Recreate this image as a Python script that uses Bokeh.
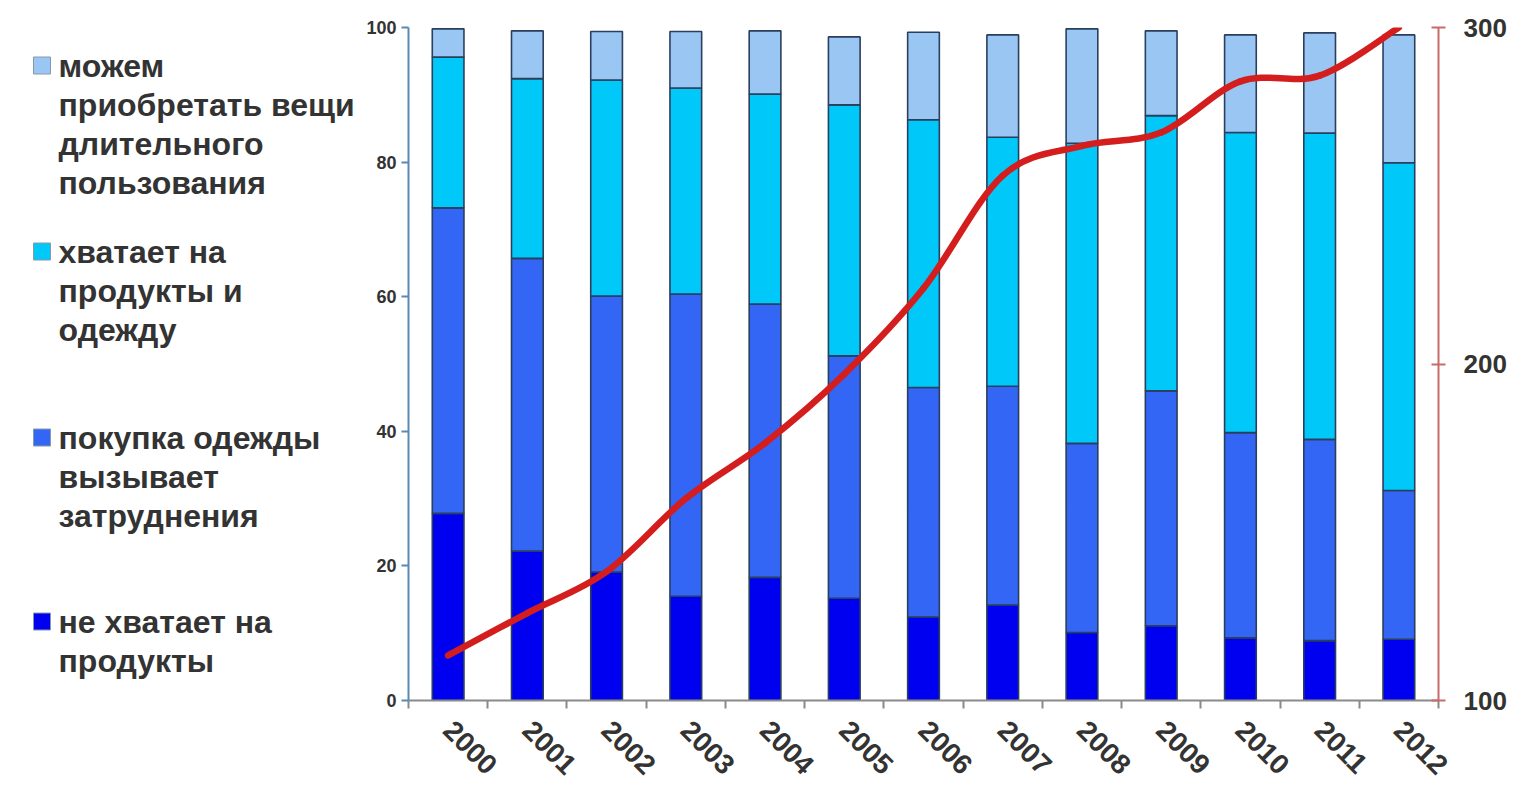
import math
from bokeh.plotting import figure
from bokeh.models import Range1d, LinearAxis, FixedTicker, ColumnDataSource
from bokeh.layouts import row
from bokeh.embed import file_html
from bokeh.resources import INLINE
from bokeh.core.properties import value

# ---------------- data ----------------
years = ["2000", "2001", "2002", "2003", "2004", "2005", "2006",
         "2007", "2008", "2009", "2010", "2011", "2012"]
series_names = [
    "не хватает на продукты",
    "покупка одежды вызывает затруднения",
    "хватает на продукты и одежду",
    "можем приобретать вещи длительного пользования",
]
not_enough_food = [27.8, 22.2, 19.1, 15.5, 18.3, 15.2, 12.4, 14.2, 10.1, 11.1, 9.3, 8.9, 9.1]
clothes_hard = [45.4, 43.5, 41.0, 44.9, 40.6, 36.0, 34.1, 32.5, 28.1, 34.9, 30.5, 29.9, 22.1]
food_and_clothes = [22.4, 26.7, 32.1, 30.6, 31.2, 37.3, 39.8, 37.0, 44.6, 40.9, 44.6, 45.5, 48.7]
durables = [4.2, 7.1, 7.2, 8.4, 9.4, 10.1, 13.0, 15.2, 17.0, 12.6, 14.5, 14.9, 19.0]
income_index = [113.4, 126.0, 138.3, 160.0, 176.5, 197.0, 222.5, 256.0, 264.8, 268.8, 284.0, 285.7, 300.0]

left_ticks = [0, 20, 40, 60, 80, 100]
right_ticks = [100, 200, 300]

colors = ["#0000F0", "#3366F5", "#00C8F8", "#99C6F2"]
outline = "#2A3F5E"
label_font = "Liberation Sans"
text_color = "#333333"

# ---------------- layout sizes ----------------
H = 785
TOP, BOTTOM = 27, 85
LEG_W = 362

# ---------------- main chart ----------------
p = figure(width=1147, height=H, output_backend="svg", toolbar_location=None,
           x_range=Range1d(-0.5, len(years) - 0.5), y_range=Range1d(0, 100),
           min_border_left=46, min_border_right=66, min_border_top=TOP,
           min_border_bottom=BOTTOM)
p.extra_y_ranges = {"right": Range1d(100, 300)}
p.xgrid.visible = False
p.ygrid.visible = False
p.outline_line_color = None
p.background_fill_color = "white"

xs = list(range(len(years)))
src = ColumnDataSource(dict(x=xs, s0=not_enough_food, s1=clothes_hard,
                            s2=food_and_clothes, s3=durables))
p.vbar_stack(["s0", "s1", "s2", "s3"], x="x", width=0.40, source=src,
             fill_color=colors, line_color=outline, line_width=1.6)

# smooth (Excel-like) curve through the income points, drawn as bezier segments
n = len(income_index)
bz = dict(x0=[], y0=[], x1=[], y1=[], cx0=[], cy0=[], cx1=[], cy1=[])
for i in range(n - 1):
    i0 = max(i - 1, 0)
    i3 = min(i + 2, n - 1)
    bz["x0"].append(xs[i]); bz["y0"].append(income_index[i])
    bz["x1"].append(xs[i + 1]); bz["y1"].append(income_index[i + 1])
    bz["cx0"].append(xs[i] + (xs[i + 1] - xs[i0]) / 6)
    bz["cy0"].append(income_index[i] + (income_index[i + 1] - income_index[i0]) / 6)
    bz["cx1"].append(xs[i + 1] - (xs[i3] - xs[i]) / 6)
    bz["cy1"].append(income_index[i + 1] - (income_index[i3] - income_index[i]) / 6)
p.bezier(x0="x0", y0="y0", x1="x1", y1="y1", cx0="cx0", cy0="cy0",
         cx1="cx1", cy1="cy1", source=ColumnDataSource(bz), y_range_name="right",
         line_color="#D41E1E", line_width=6.5, line_cap="round")

# left axis
ya = p.yaxis[0]
ya.ticker = FixedTicker(ticks=left_ticks)
ya.axis_line_color = "#5A8AB4"
ya.axis_line_width = 2
ya.major_tick_line_color = "#5A8AB4"
ya.major_tick_line_width = 2
ya.major_tick_out = 7
ya.major_tick_in = 0
ya.minor_tick_line_color = None
ya.major_label_standoff = 5
ya.major_label_text_font = label_font
ya.major_label_text_font_style = "bold"
ya.major_label_text_font_size = "18px"
ya.major_label_text_color = text_color

# right axis
ra = LinearAxis(y_range_name="right", ticker=FixedTicker(ticks=right_ticks))
ra.axis_line_color = "#C86A6A"
ra.axis_line_width = 2
ra.major_tick_line_color = "#C86A6A"
ra.major_tick_line_width = 2
ra.major_tick_out = 7
ra.major_tick_in = 7
ra.minor_tick_line_color = None
ra.major_label_standoff = 18
ra.major_label_text_font = label_font
ra.major_label_text_font_style = "bold"
ra.major_label_text_font_size = "26px"
ra.major_label_text_color = text_color
p.add_layout(ra, "right")

# bottom axis
xa = p.xaxis[0]
xa.ticker = FixedTicker(ticks=xs, minor_ticks=[i - 0.5 for i in range(len(years) + 1)])
xa.major_label_overrides = {i: y for i, y in enumerate(years)}
xa.axis_line_color = "#8A8A8A"
xa.axis_line_width = 2
xa.major_tick_line_color = None
xa.major_tick_out = 0
xa.major_tick_in = 0
xa.minor_tick_line_color = "#8A8A8A"
xa.minor_tick_line_width = 2
xa.minor_tick_out = 8
xa.minor_tick_in = 0
xa.major_label_orientation = -math.pi / 4
xa.major_label_standoff = 17
xa.major_label_text_font = label_font
xa.major_label_text_font_style = "bold"
xa.major_label_text_font_size = "28px"
xa.major_label_text_color = text_color

# ---------------- legend panel ----------------
lg = figure(width=LEG_W, height=H, output_backend="svg", toolbar_location=None,
            x_range=Range1d(0, LEG_W), y_range=Range1d(H - BOTTOM, TOP),
            min_border_left=0, min_border_right=0,
            min_border_top=TOP, min_border_bottom=BOTTOM)
lg.axis.visible = False
lg.grid.visible = False
lg.outline_line_color = None

legend_lines = [
    ["можем", "приобретать вещи", "длительного", "пользования"],
    ["хватает на", "продукты и", "одежду"],
    ["покупка одежды", "вызывает", "затруднения"],
    ["не хватает на", "продукты"],
]
legend_colors = [colors[3], colors[2], colors[1], colors[0]]
entry_top = [65, 251, 437, 621]
line_step = 39
tx, ty, tt = [], [], []
for lines, y0 in zip(legend_lines, entry_top):
    for k, t in enumerate(lines):
        tx.append(58); ty.append(y0 + k * line_step); tt.append(t)
lg.text(x="x", y="y", text="t", source=ColumnDataSource(dict(x=tx, y=ty, t=tt)),
        text_font=value(label_font), text_font_style="bold", text_font_size="32px",
        text_color=text_color, text_baseline="middle", text_align="left")
lg.scatter(x=[41.5] * 4, y=entry_top, marker="square", size=17,
           fill_color=legend_colors, line_color="#8899AA", line_width=1)

layout = row(lg, p)
open("out.html", "w").write(file_html(layout, INLINE))
